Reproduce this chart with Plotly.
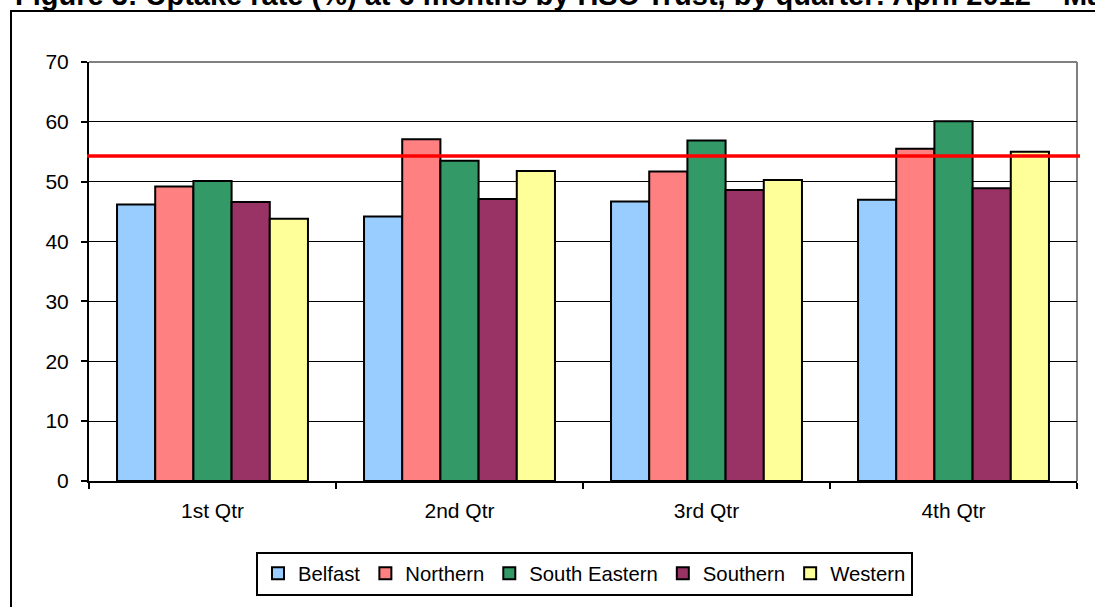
import plotly.graph_objects as go

# Uptake rate (%) at 6 months by HSC Trust, per quarter
quarters = ["1st Qtr", "2nd Qtr", "3rd Qtr", "4th Qtr"]
belfast = [46.2, 44.2, 46.7, 47.0]
northern = [49.2, 57.1, 51.7, 55.5]
south_eastern = [50.1, 53.5, 56.9, 60.1]
southern = [46.6, 47.1, 48.6, 48.9]
western = [43.8, 51.8, 50.3, 55.0]
target_rate = 54.3

trusts = ["Belfast", "Northern", "South Eastern", "Southern", "Western"]
series = [belfast, northern, south_eastern, southern, western]
colors = ["#99CCFF", "#FF8080", "#339966", "#993366", "#FFFF99"]

FONT = "Arial, 'Liberation Sans', sans-serif"

fig = go.Figure()
for name, vals, col in zip(trusts, series, colors):
    fig.add_trace(go.Bar(
        name=name, x=quarters, y=vals,
        marker=dict(color=col, line=dict(color="black", width=2)),
    ))

W, H = 1095, 607
L, R, T, B = 89, 18, 62, 126
pw, ph = W - L - R, H - T - B

def px_x(p):
    return (p - L) / pw

def px_y(p):
    return (H - B - p) / ph

shapes = [
    # plot-area border (top and right)
    dict(type="line", xref="paper", yref="paper", x0=0, x1=1, y0=1, y1=1,
         line=dict(color="#808080", width=2), layer="below"),
    dict(type="line", xref="paper", yref="paper", x0=1, x1=1, y0=0, y1=1,
         line=dict(color="#808080", width=2), layer="below"),
    # target line
    dict(type="line", xref="paper", yref="y", x0=px_x(87), x1=px_x(1080),
         y0=target_rate, y1=target_rate,
         line=dict(color="#FF0000", width=3.5), layer="above"),
    # outer chart frame
    dict(type="rect", xref="paper", yref="paper",
         x0=px_x(11), x1=px_x(1120), y0=px_y(640), y1=px_y(11),
         line=dict(color="black", width=2), fillcolor="rgba(0,0,0,0)", layer="below"),
]

fig.update_layout(
    width=W, height=H,
    margin=dict(l=L, r=R, t=T, b=B),
    paper_bgcolor="white", plot_bgcolor="white",
    font=dict(family=FONT, size=21, color="black"),
    barmode="group", bargap=0.227, bargroupgap=0,
    shapes=shapes,
    showlegend=True,
    legend=dict(
        orientation="h", x=px_x(584.5), xanchor="center", y=px_y(573.5), yanchor="middle",
        bordercolor="black", borderwidth=2, bgcolor="white",
        font=dict(family=FONT, size=20.3, color="black"),
        itemwidth=30, tracegroupgap=0,
    ),
    annotations=[dict(
        text="<b>Figure 3: Uptake rate (%) at 6 months by HSC Trust, by quarter: April 2012 – March 2013</b>",
        xref="paper", yref="paper", x=px_x(13), y=px_y(-5),
        xanchor="left", yanchor="middle", showarrow=False,
        font=dict(family=FONT, size=29, color="black"),
    )],
)

fig.update_xaxes(
    type="category", tickson="boundaries", ticks="outside", ticklen=6,
    tickwidth=2, tickcolor="black", showline=True, linecolor="black", linewidth=2,
    showgrid=False, tickfont=dict(size=21), ticklabelstandoff=10, fixedrange=True,
)
fig.update_yaxes(
    range=[0, 70], dtick=10, ticks="outside", ticklen=6, tickwidth=2,
    tickcolor="black", showline=True, linecolor="black", linewidth=2,
    showgrid=True, gridcolor="black", gridwidth=1, zeroline=False,
    tickfont=dict(size=21), ticklabelstandoff=8, fixedrange=True,
)

fig.write_html("out.html")
